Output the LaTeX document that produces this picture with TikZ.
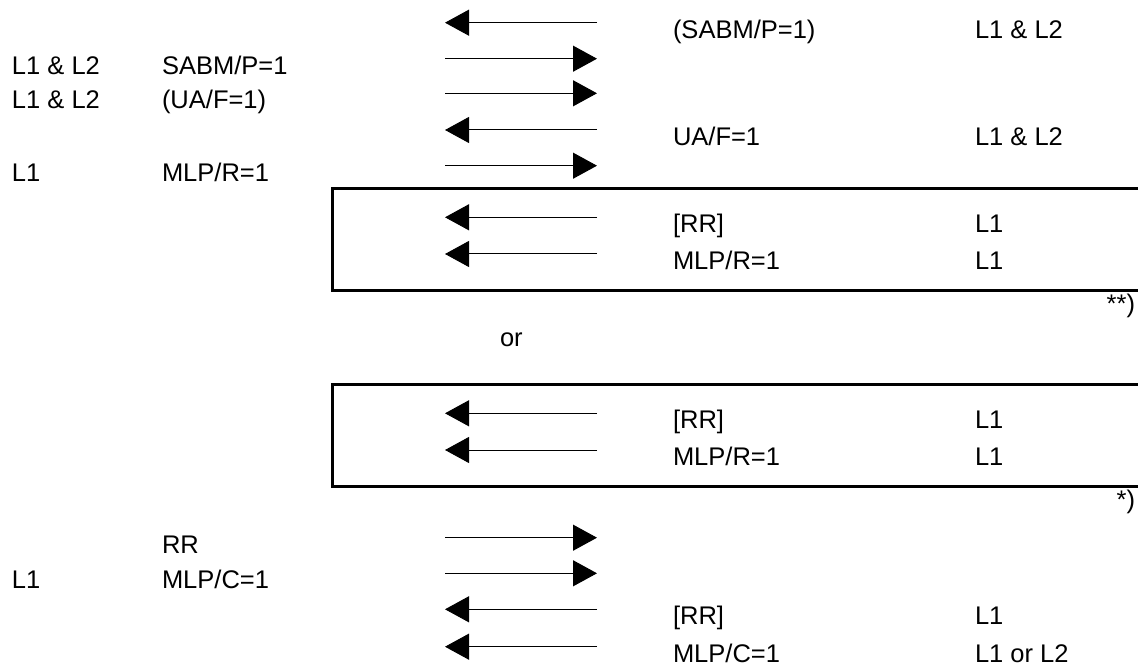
\documentclass[tikz,border=0pt]{standalone}
\usepackage{fontspec}
\setmainfont{Liberation Sans}
\usetikzlibrary{arrows.meta}
\begin{document}
\begin{tikzpicture}[x=1pt,y=-1pt,
  lbl/.style={anchor=base west,inner sep=0pt,outer sep=0pt,font=\fontsize{25.5}{30}\selectfont},
  lblr/.style={anchor=base east,inner sep=0pt,outer sep=0pt,font=\fontsize{25.5}{30}\selectfont},
  msg/.style={line width=1pt,-{Triangle[length=24pt,width=26pt]}},
  frame/.style={line width=3pt}]
\useasboundingbox (0,0) rectangle (1138,668);
% arrow end coordinates
\foreach \n/\y in {1/22.7,2/58.7,3/93.3,4/130,5/165.7,6/217.3,7/254,8/413.3,9/450,10/537.7,11/573.3,12/609.3,13/646.7}{
  \coordinate (l\n) at (445,\y);
  \coordinate (r\n) at (597,\y);
}
% arrows
\draw[msg] (r1) -- (l1);
\draw[msg] (l2) -- (r2);
\draw[msg] (l3) -- (r3);
\draw[msg] (r4) -- (l4);
\draw[msg] (l5) -- (r5);
\draw[msg] (r6) -- (l6);
\draw[msg] (r7) -- (l7);
\draw[msg] (r8) -- (l8);
\draw[msg] (r9) -- (l9);
\draw[msg] (l10) -- (r10);
\draw[msg] (l11) -- (r11);
\draw[msg] (r12) -- (l12);
\draw[msg] (r13) -- (l13);
% boxes
\draw[frame] (1140,188.3) -- (332.7,188.3) -- (332.7,290.7) -- (1140,290.7);
\draw[frame] (1140,384) -- (332.7,384) -- (332.7,486) -- (1140,486);
% left texts
\node[lbl] (a2) at (12,74.2) {L1 \& L2};
\node[lbl] (b2) at (162,74.2) {SABM/P=1};
\node[lbl] (a3) at (12,108.8) {L1 \& L2};
\node[lbl] (b3) at (162,108.8) {(UA/F=1)};
\node[lbl] (a5) at (12,181.2) {L1};
\node[lbl] (b5) at (162,181.2) {MLP/R=1};
\node[lbl] (b10) at (162,553.2) {RR};
\node[lbl] (a11) at (12,588.8) {L1};
\node[lbl] (b11) at (162,588.8) {MLP/C=1};
% right texts
\node[lbl] (c1) at (673,38.2) {(SABM/P=1)};
\node[lbl] (d1) at (975,38.2) {L1 \& L2};
\node[lbl] (c4) at (673,145.5) {UA/F=1};
\node[lbl] (d4) at (975,145.5) {L1 \& L2};
\node[lbl] (c6) at (673,232.8) {[RR]};
\node[lbl] (d6) at (975,232.8) {L1};
\node[lbl] (c7) at (673,269.5) {MLP/R=1};
\node[lbl] (d7) at (975,269.5) {L1};
\node[lbl] (c8) at (673,428.8) {[RR]};
\node[lbl] (d8) at (975,428.8) {L1};
\node[lbl] (c9) at (673,465.5) {MLP/R=1};
\node[lbl] (d9) at (975,465.5) {L1};
\node[lbl] (c12) at (673,624.8) {[RR]};
\node[lbl] (d12) at (975,624.8) {L1};
\node[lbl] (c13) at (673,662.2) {MLP/C=1};
\node[lbl] (d13) at (975,662.2) {L1 or L2};
% notes
\node[lblr] (n1) at (1135,313) {**)};
\node[lblr] (n2) at (1135,508) {*)};
\node[lbl] (or) at (500,347) {or};
\end{tikzpicture}
\end{document}
